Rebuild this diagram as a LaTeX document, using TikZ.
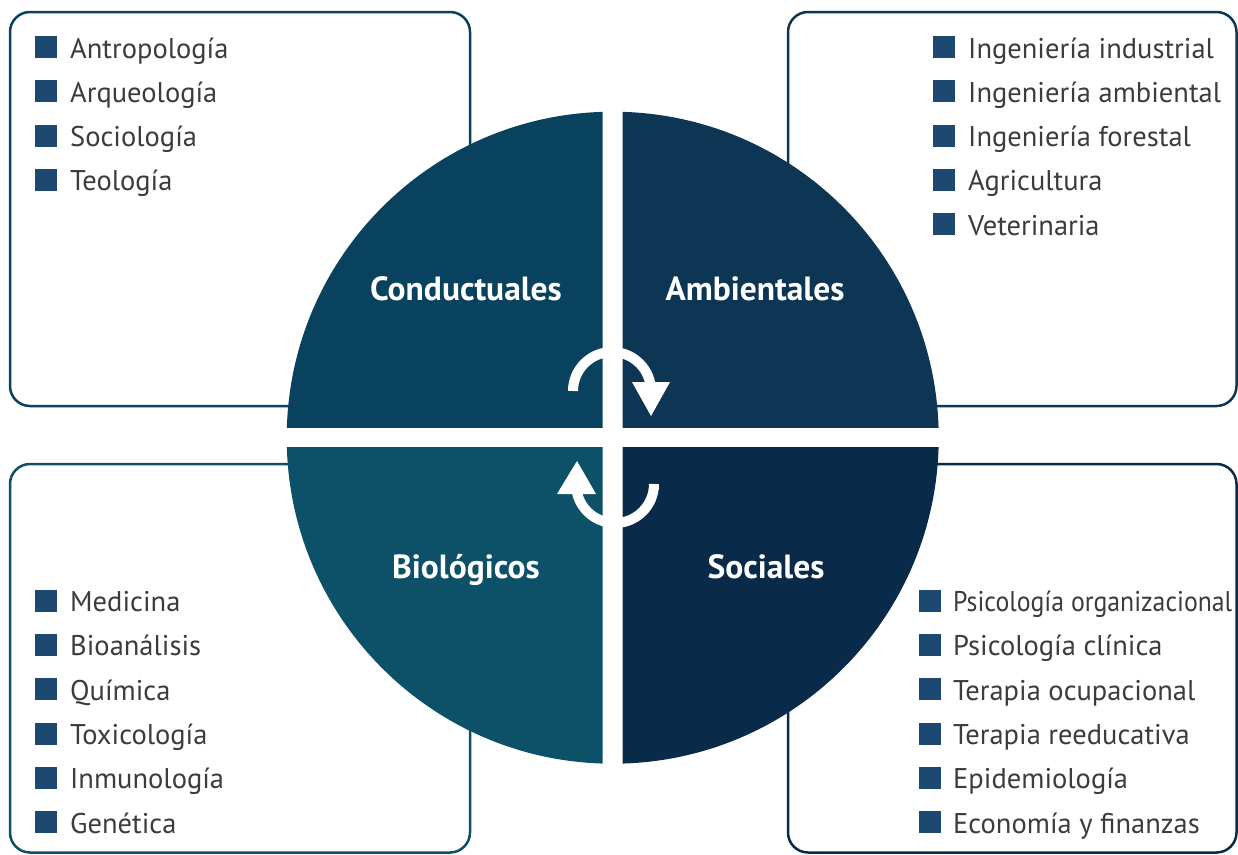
\documentclass[tikz,border=0pt]{standalone}
\usepackage{fontspec}
\usepackage{graphicx}
\setmainfont{PT Sans}
\definecolor{cA}{HTML}{08425F}
\definecolor{cB}{HTML}{0D3654}
\definecolor{cC}{HTML}{0D5169}
\definecolor{cD}{HTML}{0A2A4A}
\definecolor{bulc}{HTML}{1D4872}
\definecolor{txt}{HTML}{3C3C3C}
\begin{document}
\begin{tikzpicture}[x=1pt,y=-1pt,
  item/.style={anchor=base west, inner sep=0pt, text=txt, font=\fontsize{28.5}{34}\selectfont},
  bulsq/.style={fill=bulc},
  panel/.style={line width=2.5pt, rounded corners=20pt, fill=white},
  lab/.style={anchor=base, inner sep=0pt, text=white, font=\fontsize{33.5}{38}\selectfont\bfseries},
  turn/.style={white, line width=10pt}]
\useasboundingbox (0,0) rectangle (1238,854);
% panels
\draw[panel, draw=cA] (10,12) rectangle (470,406);
\draw[panel, draw=cB] (788,12) rectangle (1236.5,406);
\draw[panel, draw=cC] (10,464) rectangle (470,852.5);
\draw[panel, draw=cD] (788,464) rectangle (1236.5,852.5);
% quadrants
\begin{scope}\clip (0,0) rectangle (602.7,427.7);
  \fill[cA] (612.7,437.7) circle (326);\end{scope}
\begin{scope}\clip (622.7,0) rectangle (1238,427.7);
  \fill[cB] (612.7,437.7) circle (326);\end{scope}
\begin{scope}\clip (0,447.7) rectangle (602.7,854);
  \fill[cC] (612.7,437.7) circle (326);\end{scope}
\begin{scope}\clip (622.7,447.7) rectangle (1238,854);
  \fill[cD] (612.7,437.7) circle (326);\end{scope}
% labels
\node[lab] (cond) at (466,300) {Conductuales};
\node[lab] (amb) at (755,300) {Ambientales};
\node[lab] (bio) at (466,578) {Biológicos};
\node[lab] (soc) at (766,578) {Sociales};
% cycle arrows
\draw[turn] (573,391) arc[start angle=180, end angle=360, radius=39];
\fill[white] (632,382) -- (670,382) -- (651,416) -- cycle;
\draw[turn] (654,484) arc[start angle=0, end angle=180, radius=39];
\fill[white] (557,494) -- (596,494) -- (577,461) -- cycle;
% lists
\foreach \t [count=\i] in {Antropología, Arqueología, Sociología, Teología}{
  \fill[bulsq] (35,{58+44.27*(\i-1)-22}) rectangle ++(22,22);
  \node[item] (tl\i) at (70,{58+44.27*(\i-1)}) {\t};}
\foreach \t [count=\i] in {Ingeniería industrial, Ingeniería ambiental, Ingeniería forestal, Agricultura, Veterinaria}{
  \fill[bulsq] (933,{58+44.27*(\i-1)-22}) rectangle ++(22,22);
  \node[item] (tr\i) at (968,{58+44.27*(\i-1)}) {\t};}
\foreach \t [count=\i] in {Medicina, Bioanálisis, Química, Toxicología, Inmunología, Genética}{
  \fill[bulsq] (35,{611.7+44.27*(\i-1)-22}) rectangle ++(22,22);
  \node[item] (bl\i) at (70,{611.7+44.27*(\i-1)}) {\t};}
\foreach \t [count=\i] in {{\resizebox{279pt}{\height}{Psicología organizacional}}, Psicología clínica, Terapia ocupacional, Terapia reeducativa, Epidemiología, Economía y finanzas}{
  \fill[bulsq] (918.5,{611.7+44.27*(\i-1)-22}) rectangle ++(22,22);
  \node[item] (br\i) at (953,{611.7+44.27*(\i-1)}) {\t};}
\end{tikzpicture}
\end{document}
